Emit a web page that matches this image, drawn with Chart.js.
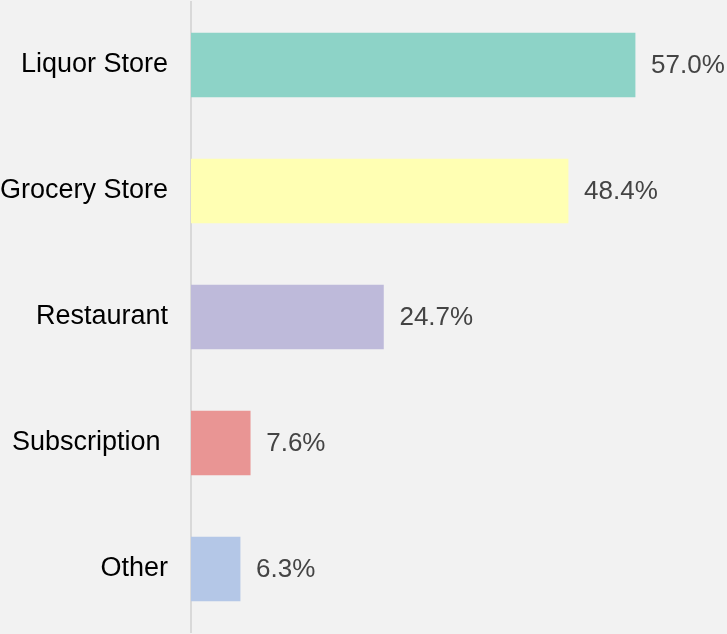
<!DOCTYPE html>
<html>
<head>
<meta charset="utf-8">
<script src="https://cdn.jsdelivr.net/npm/chart.js@4.4.1/dist/chart.umd.min.js"></script>
<style>
  html, body { margin: 0; padding: 0; background: #f2f2f2; }
  #wrap { width: 727px; height: 634px; position: relative; }
</style>
</head>
<body>
<div id="wrap"><canvas id="chart"></canvas></div>
<script>
  // ── Data ──────────────────────────────────────────────────────────
  var categories = ['Liquor Store', 'Grocery Store', 'Restaurant', 'Subscription ', 'Other'];
  var shares     = [57.0, 48.4, 24.7, 7.6, 6.3];
  var barColors  = ['#8dd3c7', '#ffffb3', '#bebada', '#e99594', '#b4c7e7'];

  var FONT = 'Arial, "Liberation Sans", sans-serif';

  // value labels at the end of each bar
  var valueLabels = {
    id: 'valueLabels',
    afterDatasetsDraw: function (chart) {
      var ctx = chart.ctx;
      var meta = chart.getDatasetMeta(0);
      ctx.save();
      ctx.font = '26px ' + FONT;
      ctx.fillStyle = '#444444';
      ctx.textAlign = 'left';
      ctx.textBaseline = 'middle';
      meta.data.forEach(function (bar, i) {
        ctx.fillText(shares[i].toFixed(1) + '%', bar.x + 16, bar.y + 1);
      });
      ctx.restore();
    }
  };

  new Chart(document.getElementById('chart'), {
    type: 'bar',
    data: {
      labels: categories,
      datasets: [{
        data: shares,
        backgroundColor: barColors,
        borderWidth: 0,
        barThickness: 64
      }]
    },
    options: {
      indexAxis: 'y',
      responsive: true,
      maintainAspectRatio: false,
      animation: false,
      layout: { padding: { top: 2, bottom: 2, left: 0, right: 0 } },
      plugins: {
        legend: { display: false },
        tooltip: { enabled: false }
      },
      scales: {
        x: {
          display: false,
          min: 0,
          max: 68.8
        },
        y: {
          afterFit: function (scale) { scale.width = 191; },
          // invisible ticks keep the label gap without adding vertical padding
          grid: {
            display: true,
            drawOnChartArea: false,
            drawTicks: true,
            tickLength: 23,
            color: 'rgba(0,0,0,0)'
          },
          border: { display: true, color: '#d9d9d9', width: 2 },
          ticks: {
            padding: 0,
            color: '#000000',
            font: { family: FONT, size: 27, lineHeight: 0.1 }
          }
        }
      }
    },
    plugins: [valueLabels]
  });
</script>
</body>
</html>
